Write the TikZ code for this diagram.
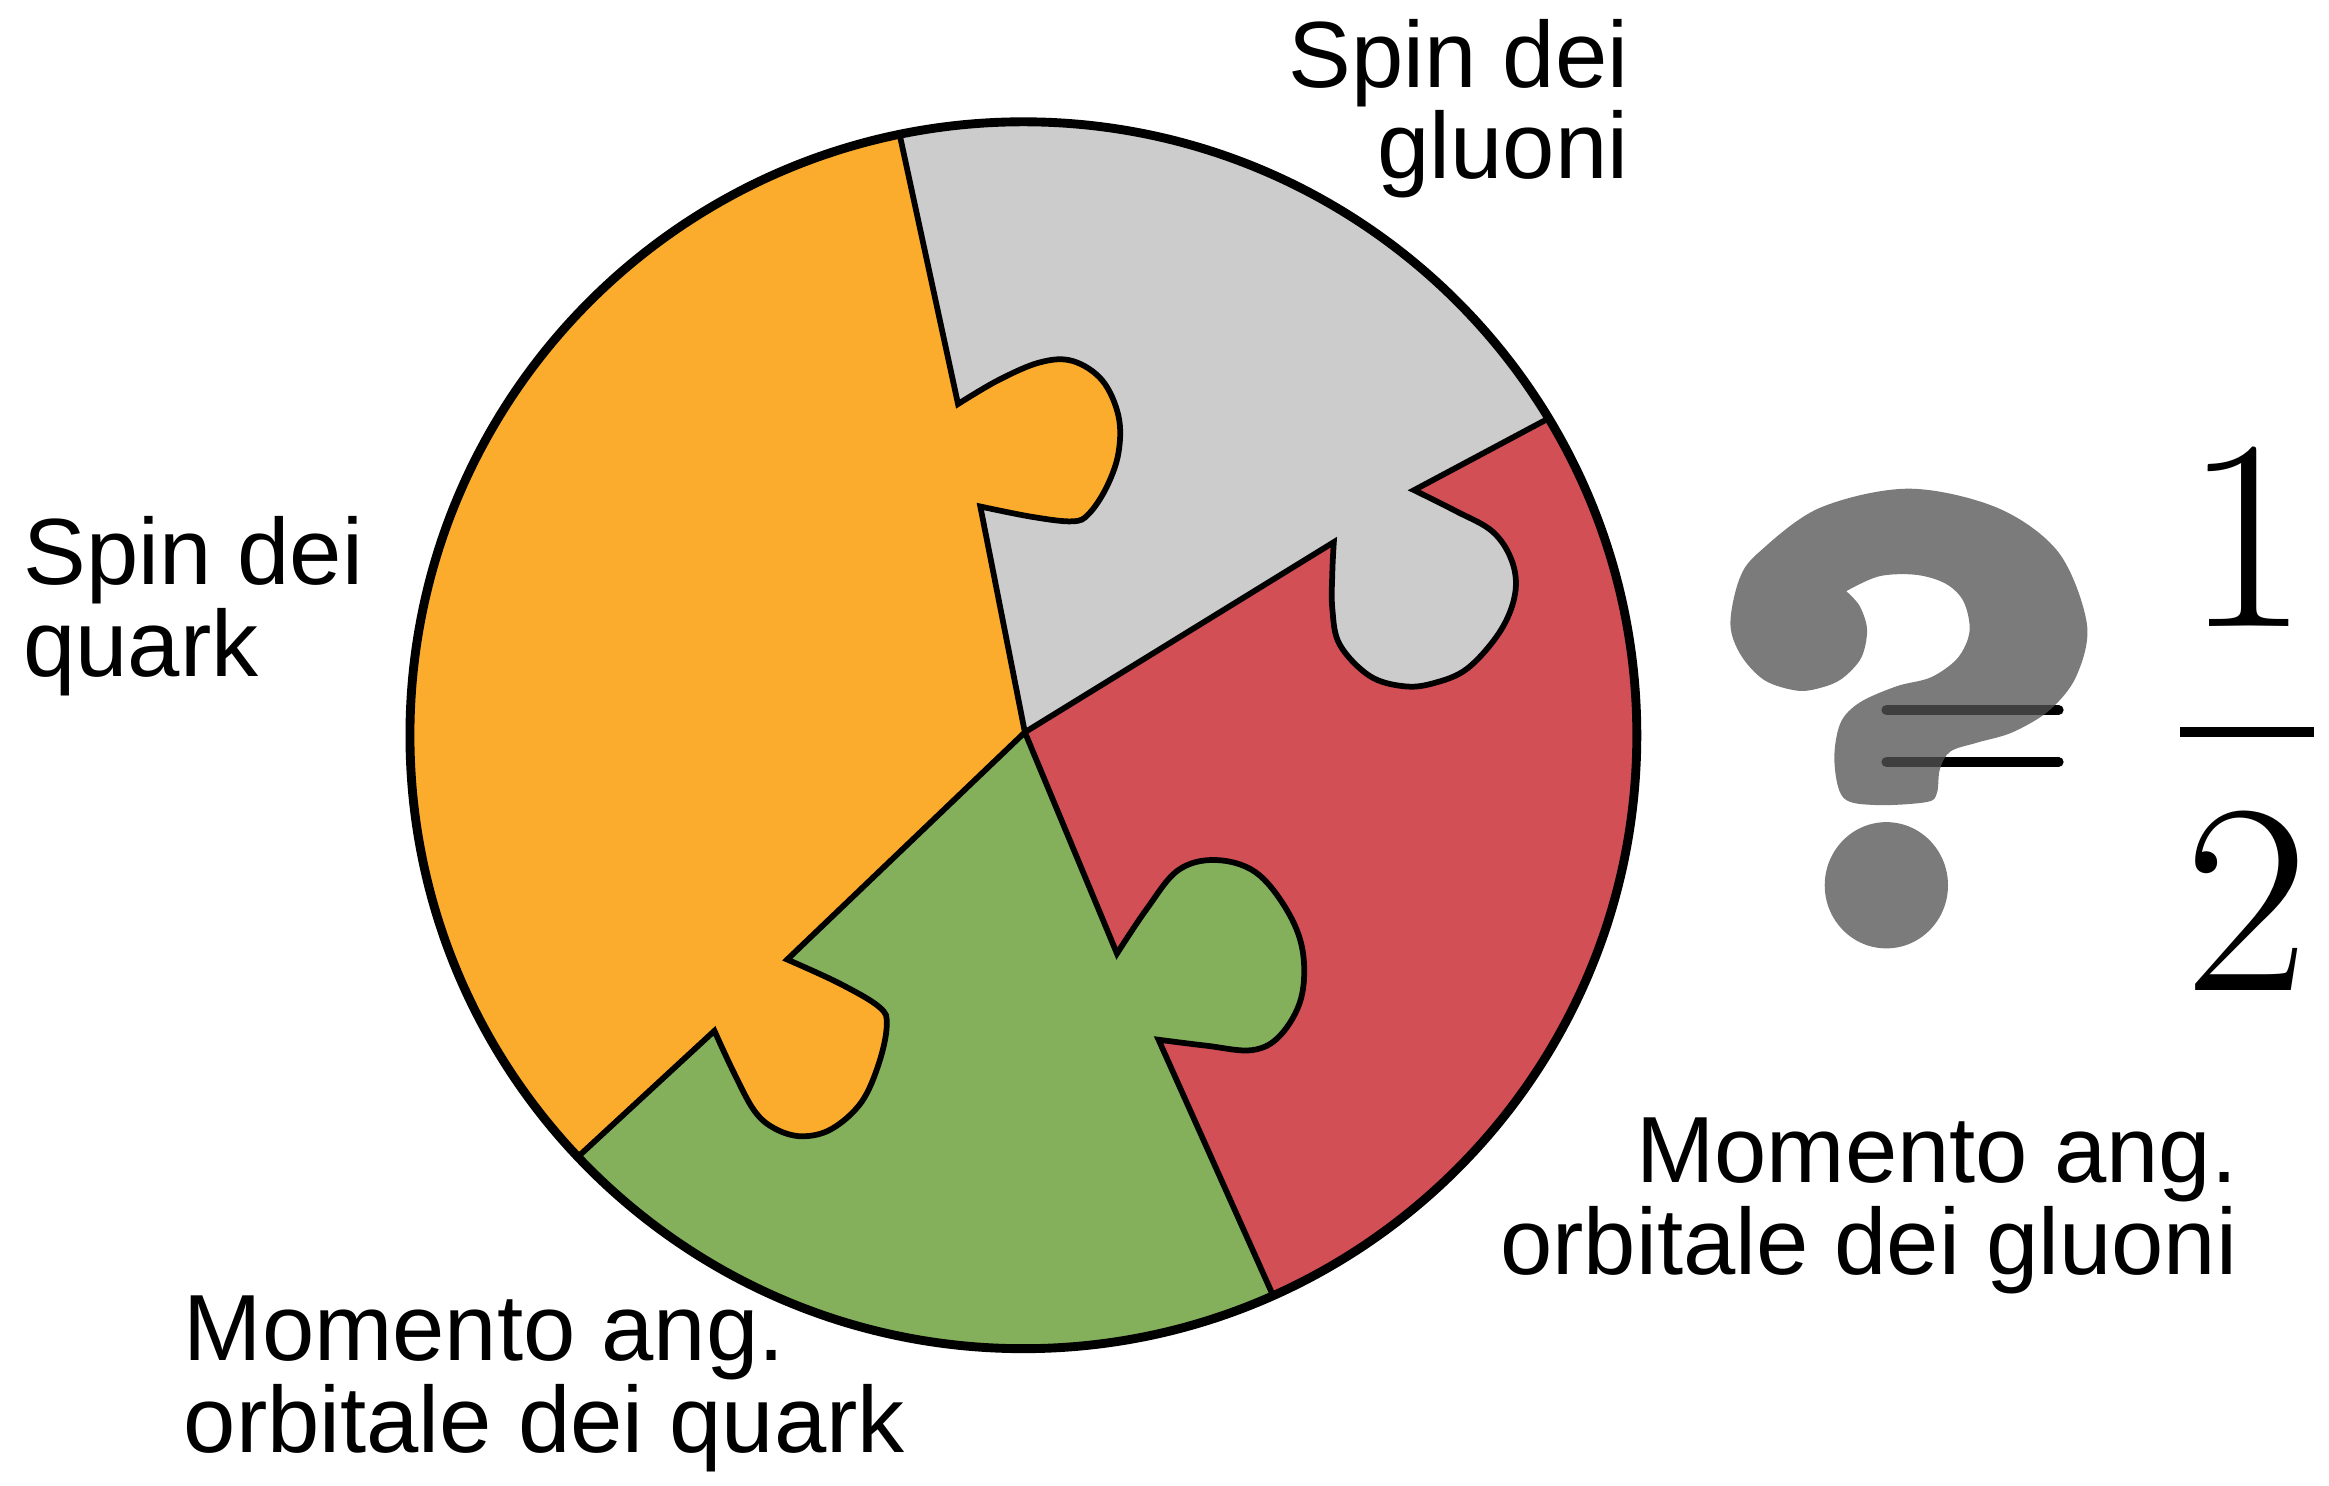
\documentclass[tikz,border=0pt]{standalone}
\usepackage{fontspec}
\newfontfamily\labelfont{Liberation Sans}
\usepackage{tikz}
\usetikzlibrary{positioning}
\definecolor{QuarkSpin}{HTML}{FCAC2C}
\definecolor{GluonSpin}{HTML}{CCCCCC}
\definecolor{GluonOrb}{HTML}{D24F55}
\definecolor{QuarkOrb}{HTML}{84AF5B}
\definecolor{Mark}{HTML}{535353}
\tikzset{
  piece/.style={draw=black,line width=1.1pt,line join=miter},
  rim/.style={draw=black,line width=1.7pt},
  lbl/.style={font=\labelfont\fontsize{18}{17.6}\selectfont,inner sep=0pt},
  qmark/.style={fill=Mark,fill opacity=.77},
  digits/.style={font=\fontsize{52}{69.7}\selectfont,inner sep=0pt,align=center},
  eqbar/.style={line width=1.9pt,line cap=round},
  fracbar/.style={line width=2pt}
}
\begin{document}
\begin{tikzpicture}[x=0.01cm,y=-0.01cm]
  \useasboundingbox (0,0) rectangle (1568,1000);
  \coordinate (O) at (689,495);
  \coordinate (J) at (690,493);

  % puzzle pieces, painted in layers and clipped to the disc
  \begin{scope}
    \clip (O) circle (413);
    \fill[QuarkSpin] (O) circle (413);
    % gluon spin
    \filldraw[piece,fill=GluonSpin] (595,40) -- (606,92)
      -- plot[smooth,tension=.6] coordinates {(645,272) (672,256) (700,244) (722,243) (742,256) (753,280) (753,305) (745,328) (733,346) (722,351) (695,348) (660,341)}
      -- (J) -- (1300,800) -- (1300,-100) -- (585,-100) -- cycle;
    % gluon orbital
    \filldraw[piece,fill=GluonOrb] (1090,255) -- (1042,282)
      -- plot[smooth,tension=.6] coordinates {(952,330) (980,344) (1005,358) (1018,378) (1020,400) (1010,425) (988,450) (965,460) (945,462) (922,455) (902,434) (897,410) (897,385) (898,365)}
      -- (J) -- (700,1100) -- (1300,1100) -- (1300,200) -- cycle;
    % quark orbital
    \filldraw[piece,fill=QuarkOrb] (J)
      -- plot[smooth,tension=.6] coordinates {(752,642) (772,612) (793,586) (818,579) (845,587) (866,612) (877,640) (876,672) (862,697) (843,707) (812,704) (780,700)}
      -- (857,872) -- (890,945) -- (900,1100) -- (300,1100) -- (330,833) -- (390,778)
      -- plot[smooth,tension=.6] coordinates {(481,694) (494,722) (508,748) (522,760) (540,765) (560,760) (580,742) (592,715) (597,690) (592,678) (565,662) (530,646)}
      -- cycle;
  \end{scope}
  \draw[rim] (O) circle (413);

  % labels
  \node[lbl,anchor=north east,align=right] (gluonspin) at (1097,12) {Spin dei\\gluoni};
  \node[lbl,anchor=north west,align=left] (quarkspin) at (15,347) {Spin dei\\quark};
  \node[lbl,anchor=north east,align=right] (gluonorb) at (1507,752) {Momento ang.\\orbitale dei gluoni};
  \node[lbl,anchor=north west,align=left] (quarkorb) at (123,872) {Momento ang.\\orbitale dei quark};

  % ? = 1/2
  \draw[eqbar] (1270,478) -- (1386,478);
  \draw[eqbar] (1270,513) -- (1386,513);
  \fill[qmark] plot[smooth,tension=.55] coordinates {(1243,398) (1252,408) (1257,424) (1253,443) (1240,457) (1226,463) (1210,465) (1188,458) (1172,441) (1165,420) (1171,390) (1184,372) (1225,342) (1285,329) (1345,342) (1386,372) (1405,420) (1398,455) (1380,478) (1355,493) (1331,500) (1313,506) (1306,518) (1304,534) (1297,540) (1263,542) (1241,537) (1235,512) (1239,487) (1252,473) (1277,462) (1300,456) (1318,443) (1326,425) (1322,405) (1310,393) (1290,387) (1265,388) (1243,398)} -- cycle;
  \fill[qmark] (1270,596) ellipse [x radius=41.5,y radius=42.5];
  \node[digits,anchor=north] (half) at (1513,300) {1\\2};
  \draw[fracbar] (1468,493) -- (1558,493);
\end{tikzpicture}
\end{document}
